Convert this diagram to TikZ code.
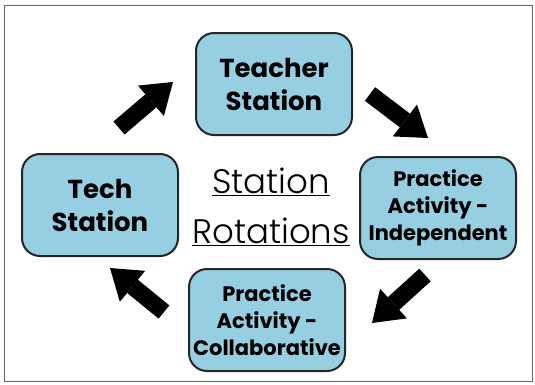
\documentclass[tikz,border=0pt]{standalone}
\usepackage{fontspec}
\usetikzlibrary{arrows.meta}
\newfontfamily\boxfont{Poppins}
\newfontfamily\titlefont{Poppins Light}
\definecolor{stationblue}{HTML}{96CEE2}
\definecolor{framegray}{HTML}{5A6470}
\tikzset{
  station/.style={draw=black!85, line width=2pt, fill=stationblue, rounded corners=18pt,
    minimum width=156pt, minimum height=102pt, align=center, font=\boxfont\bfseries},
  turn/.style={line width=17pt, -{Triangle[width=40pt, length=29pt, line width=0pt]}, draw=black}
}
\begin{document}
\begin{tikzpicture}[x=1pt, y=-1pt]
    \useasboundingbox (0,0) rectangle (535,384);
    \draw[framegray, line width=1pt] (4,5) rectangle (532,381);

    % Stations
    \node[station, font=\boxfont\bfseries\fontsize{26}{33}\selectfont] (teacher) at (274,84) {Teacher\\Station};
    \node[station, font=\boxfont\bfseries\fontsize{26}{33}\selectfont] (tech) at (100,205) {Tech\\Station};
    \node[station, font=\boxfont\bfseries\fontsize{21}{27}\selectfont] (indep) at (438,208) {Practice\\Activity -\\Independent};
    \node[station, font=\boxfont\bfseries\fontsize{21}{27}\selectfont] (collab) at (267,320) {Practice\\Activity -\\Collaborative};

    % Title
    \node[font=\titlefont\fontsize{34}{50}\selectfont, align=center] (title) at (271,207)
        {\underline{Station}\\\underline{Rotations}};

    % Arrows
    \coordinate (a1s) at (119,128);  \coordinate (a1e) at (173,82);
    \coordinate (a2s) at (370,94);   \coordinate (a2e) at (428,138);
    \coordinate (a3s) at (425,275);  \coordinate (a3e) at (372,323);
    \coordinate (a4s) at (164,312);  \coordinate (a4e) at (110,268);
    \draw[turn] (a1s) -- (a1e);
    \draw[turn] (a2s) -- (a2e);
    \draw[turn] (a3s) -- (a3e);
    \draw[turn] (a4s) -- (a4e);
\end{tikzpicture}
\end{document}
